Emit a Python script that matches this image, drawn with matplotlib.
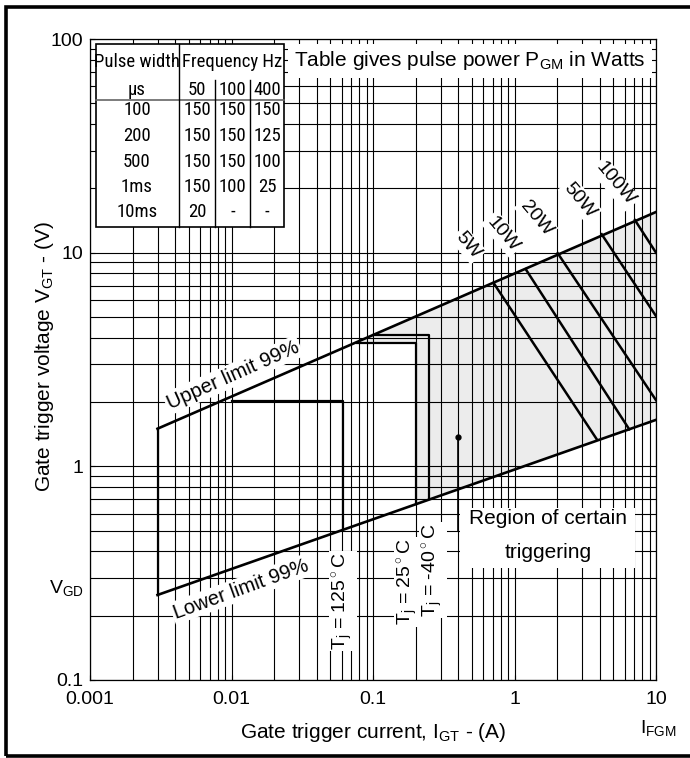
import matplotlib
matplotlib.use("Agg")
from matplotlib import pyplot as plt
from matplotlib.patches import Rectangle
from matplotlib.lines import Line2D

plt.rcParams['font.family'] = ['Liberation Sans', 'DejaVu Sans']
plt.rcParams['mathtext.fontset'] = 'custom'
plt.rcParams['mathtext.rm'] = 'Liberation Sans'
plt.rcParams['mathtext.it'] = 'Liberation Sans:italic'

# grenzlinien 99%
upper_i = [0.003, 10]
upper_v = [1.5, 15.5]
lower_i = [0.003, 10]
lower_v = [0.25, 1.65]

# boxen fuer die temperaturen
t125_i = [0.01, 0.061, 0.061]
t125_v = [2.02, 2.02, 0.51]
t25_i = [0.077, 0.2, 0.2]
t25_v = [3.78, 3.78, 0.665]
t40_i = [0.1, 0.25, 0.25]
t40_v = [4.13, 4.13, 0.70]

# leistungslinien
watts = ['5W', '10W', '20W', '50W', '100W']
p_start_i = [0.71, 1.2, 2.02, 4.13, 7.1]
p_start_v = [7.23, 8.37, 9.94, 12.2, 14.2]
p_end_i = [3.81, 6.47, 10, 10, 10]
p_end_v = [1.34, 1.49, 2.04, 5.05, 10]

# zeiger "region of certain triggering"
dot_i = 0.4
dot_v = 1.37

# tabelle
tab_head = ['50', '100', '400']
tab_rows = ['100', '200', '500', '1ms', '10ms']
tab_vals = [['150', '150', '150'],
            ['150', '150', '125'],
            ['150', '150', '100'],
            ['150', '100', '25'],
            ['20', '-', '-']]

W, H = 690, 758
fig = plt.figure(figsize=(W / 100, H / 100), dpi=100)
ax = fig.add_axes([90 / W, 1 - 680 / H, 566 / W, 641 / H])


def px(x, y):
    return x / W, 1 - y / H


ax.set_xscale('log')
ax.set_yscale('log')
ax.set_xlim(0.001, 10)
ax.set_ylim(0.1, 100)
ax.set_axisbelow(True)
ax.grid(True, which='both', color='black', lw=0.8)
ax.set_xticks([0.001, 0.01, 0.1, 1, 10], ['0.001', '0.01', '0.1', '1', '10'])
ax.set_yticks([0.1, 1, 10, 100], ['0.1', '1', '10', '100'])
ax.tick_params(which='both', direction='in', labelsize=14)
ax.tick_params(axis='x', pad=8)
ax.tick_params(axis='y', pad=5)
ax.tick_params(which='minor', labelleft=False, labelbottom=False)
for s in ax.spines.values():
    s.set_linewidth(0.9)

# schattierte flaeche
fill_i = [t25_i[0], t25_i[1], t25_i[2], lower_i[1], upper_i[1]]
fill_v = [t25_v[0], t25_v[1], t25_v[2], lower_v[1], upper_v[1]]
ax.fill(fill_i, fill_v, color='#ececec', zorder=0.3, lw=0)

ax.plot(upper_i, upper_v, color='black', lw=1.9, zorder=2)
ax.plot(lower_i, lower_v, color='black', lw=1.9, zorder=2)
ax.plot([upper_i[0], lower_i[0]], [upper_v[0], lower_v[0]], color='black', lw=1.6, zorder=2)
for bi, bv in [(t125_i, t125_v), (t25_i, t25_v), (t40_i, t40_v)]:
    ax.plot(bi, bv, color='black', lw=1.6, zorder=2)
for k in range(len(watts)):
    ax.plot([p_start_i[k], p_end_i[k]], [p_start_v[k], p_end_v[k]], color='black', lw=1.8, zorder=2)

ax.plot([dot_i, dot_i], [dot_v, 0.5], color='black', lw=1.2, zorder=2)
ax.plot([dot_i], [dot_v], 'o', color='black', ms=3.5, zorder=2)

wb = dict(facecolor='white', edgecolor='none', pad=1.5)
fig.text(*px(233, 375), 'Upper limit 99%', rotation=24, fontsize=14.5, ha='center', va='center',
         bbox=wb, zorder=4)
fig.text(*px(241, 589), 'Lower limit 99%', rotation=20, fontsize=14.5, ha='center', va='center',
         bbox=wb, zorder=4)

# leistungs-beschriftung
lab_pos = [(468, 245), (503, 234), (536, 218), (580, 200), (615, 184)]
for k in range(len(watts)):
    fig.text(*px(*lab_pos[k]), watts[k], rotation=-50, fontsize=14, ha='center', va='center',
             bbox=wb, zorder=4)

# temperaturen
tj_pos = [(343, 601, '125'), (408, 582, '25'), (433, 570, '-40')]
for x0, y0, t in tj_pos:
    fig.text(*px(x0, y0), r'T$_\mathrm{j}$ = ' + t + r'$^\circ$C', rotation=90, fontsize=14,
             ha='center', va='center', bbox=dict(facecolor='white', edgecolor='none', pad=1),
             zorder=4)

# region text
fig.add_artist(Rectangle(px(460, 568), 175 / W, 60 / H, transform=fig.transFigure,
                         facecolor='white', edgecolor='none', zorder=3))
fig.text(*px(548, 519), 'Region of certain', fontsize=15, ha='center', va='center', zorder=4)
fig.text(*px(548, 552), 'triggering', fontsize=15, ha='center', va='center', zorder=4)

# titel-text oben
fig.add_artist(Rectangle(px(288, 78), 364 / W, 34 / H, transform=fig.transFigure,
                         facecolor='white', edgecolor='none', zorder=3))
fig.text(*px(470, 60), r'Table gives pulse power P$_\mathrm{GM}$ in Watts', fontsize=15,
         ha='center', va='center', zorder=4)

# tabelle zeichnen
fig.add_artist(Rectangle(px(96, 227), 188 / W, 183 / H, transform=fig.transFigure,
                         facecolor='white', edgecolor='black', lw=1.2, zorder=3))
fig.add_artist(Line2D([96 / W, 284 / W], [1 - 100 / H, 1 - 100 / H], transform=fig.transFigure,
                      color='#666666', lw=1.2, zorder=4))
fig.add_artist(Line2D([179 / W, 179 / W], [1 - 44 / H, 1 - 227 / H], transform=fig.transFigure,
                      color='black', lw=1.0, zorder=4))
for xd in [215, 250]:
    fig.add_artist(Line2D([xd / W, xd / W], [1 - 80 / H, 1 - 227 / H], transform=fig.transFigure,
                          color='black', lw=1.0, zorder=4))
tf = dict(fontsize=13.5, family=['Roboto Condensed', 'Liberation Sans', 'DejaVu Sans'],
          ha='center', va='center', zorder=5)
fig.text(*px(137.5, 62), 'Pulse width', **tf)
fig.text(*px(232, 62), 'Frequency Hz', **tf)
fig.text(*px(137, 90), 'µs', **tf)
col_x = [197, 232.5, 267]
for j in range(3):
    fig.text(*px(col_x[j], 90), tab_head[j], **tf)
row_y = [110, 136, 162, 187, 212]
for r in range(len(tab_rows)):
    fig.text(*px(137, row_y[r]), tab_rows[r], **tf)
    for j in range(3):
        fig.text(*px(col_x[j], row_y[r]), tab_vals[r][j], **tf)

# achsen-beschriftung
ax.set_xlabel(r'Gate trigger current, I$_\mathrm{GT}$ - (A)', fontsize=15)
ax.xaxis.set_label_coords(0.5, -0.064)
ax.set_ylabel(r'Gate trigger voltage V$_\mathrm{GT}$ - (V)', fontsize=15)
ax.yaxis.set_label_coords(-0.06, 0.505)
fig.text(*px(66, 588), r'V$_\mathrm{GD}$', fontsize=14, ha='center', va='center')
fig.text(*px(658, 728), r'I$_\mathrm{FGM}$', fontsize=14, ha='center', va='center')

# rahmen
fig.add_artist(Rectangle((5.5 / W, 2 / H), 1.0, 1 - 9 / H, transform=fig.transFigure,
                         facecolor='none', edgecolor='black', lw=2.6, zorder=6))

fig.savefig('out.png', dpi=100)
